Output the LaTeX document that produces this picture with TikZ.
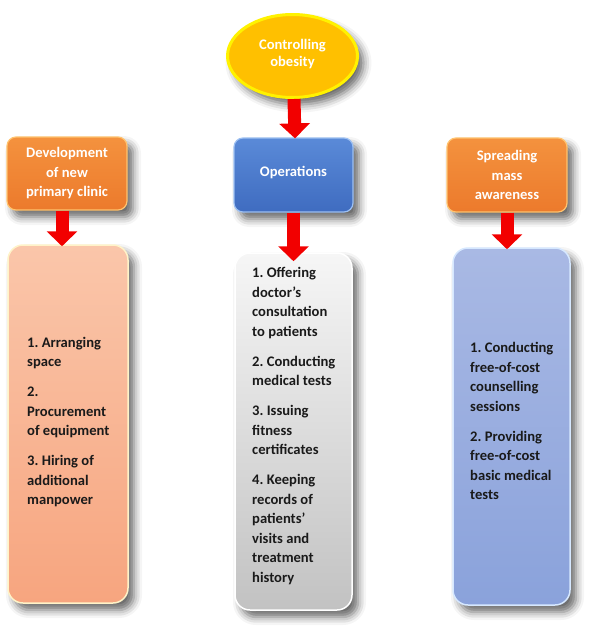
\documentclass[tikz,border=0pt]{standalone}
\usepackage{fontspec}
\setmainfont{Carlito}
\usetikzlibrary{shapes.geometric,arrows.meta,shadows.blur,calc}
\definecolor{goalfill}{HTML}{FFC000}
\definecolor{goalrim}{HTML}{FFF200}
\definecolor{opstop}{HTML}{5A8AD8}
\definecolor{opsbot}{HTML}{3F6CC0}
\definecolor{opsrim}{HTML}{9DC0F2}
\definecolor{orgtop}{HTML}{F4923E}
\definecolor{orgbot}{HTML}{EC7A2C}
\definecolor{orgrim}{HTML}{FFC36E}
\definecolor{peachtop}{HTML}{FAC6AA}
\definecolor{peachbot}{HTML}{F7A57F}
\definecolor{peachrim}{HTML}{FFF3C8}
\definecolor{graytop}{HTML}{F6F6F6}
\definecolor{graybot}{HTML}{C2C2C2}
\definecolor{bluetop}{HTML}{A9B9E4}
\definecolor{bluebot}{HTML}{8AA2DB}
\definecolor{bluerim}{HTML}{D6E8FF}
\definecolor{arrowred}{HTML}{F20000}
\definecolor{listtextcol}{HTML}{1A1A1A}
\tikzset{
  txt/.style={font=\fontsize{14.6}{19.5}\selectfont\bfseries},
  shad/.style={blur shadow={shadow xshift=6pt,shadow yshift=-7pt,shadow blur radius=8pt,shadow opacity=60}},
  headbox/.style={shad,txt,rectangle,rounded corners=9pt,line width=1.2pt,text=white,align=center,inner sep=0pt},
  orangebox/.style={headbox,draw=orgrim,top color=orgtop,bottom color=orgbot,minimum width=120pt,minimum height=73pt},
  listbox/.style={shad,rectangle,rounded corners=15pt,line width=1.5pt,minimum height=357pt,inner sep=0pt},
  listtext/.style={txt,text=listtextcol,align=left,anchor=west,inner sep=0pt},
  bigarrow/.style={draw=arrowred,line width=13pt,-{Triangle[width=30pt,length=15pt]}},
}
\begin{document}
\begin{tikzpicture}[x=1pt,y=-1pt]
\useasboundingbox (0,0) rectangle (597,643);

% goal ellipse
\node[shad,ellipse,draw=goalrim,line width=3pt,fill=goalfill,minimum width=130pt,minimum height=83pt,
      txt,text=white,align=center,inner sep=0pt] (goal) at (292.5,56) {\raisebox{6pt}{\shortstack{Controlling\\[1pt]obesity}}};

% header boxes
\node[orangebox] (dev) at (67,173.5) {Development\\of new\\primary clinic};
\node[headbox,draw=opsrim,top color=opstop,bottom color=opsbot,minimum width=119pt,minimum height=74pt] (ops) at (293.5,175) {\raisebox{8pt}{Operations}};
\node[orangebox,minimum height=74pt] (spr) at (507,175) {Spreading\\mass\\awareness};

% list boxes
\node[listbox,draw=peachrim,top color=peachtop,bottom color=peachbot,minimum width=120pt,minimum height=358pt] (devlist) at (68,424) {};
\node[listbox,draw=white,top color=graytop,bottom color=graybot,minimum width=117pt] (opslist) at (293.5,431.5) {};
\node[listbox,draw=bluerim,top color=bluetop,bottom color=bluebot,minimum width=117pt] (sprlist) at (511.5,426.5) {};

% list texts
\node[listtext] (devtext) at (27,422) {1.\ Arranging\\space\\[10.5pt]2.\\Procurement\\of equipment\\[10.5pt]3.\ Hiring of\\additional\\manpower};
\node[listtext] (opstext) at (252,426) {1.\ Offering\\doctor’s\\consultation\\to patients\\[10.5pt]2.\ Conducting\\medical tests\\[10.5pt]3.\ Issuing\\fitness\\certificates\\[10.5pt]4.\ Keeping\\records of\\patients’\\visits and\\treatment\\history};
\node[listtext] (sprtext) at (470,421) {1.\ Conducting\\free-of-cost\\counselling\\sessions\\[10.5pt]2.\ Providing\\free-of-cost\\basic medical\\tests};

% arrows
\draw[bigarrow] ([xshift=1.5pt]goal.south) -- ([xshift=1.5pt,yshift=-1pt]ops.north);
\draw[bigarrow] ([xshift=-5pt]dev.south) -- ([xshift=-5pt,yshift=-2pt]dev.south |- devlist.north);
\draw[bigarrow] (ops.south) -- ([yshift=-9pt]opslist.north -| ops.south);
\draw[bigarrow] (spr.south) -- ([yshift=-2pt]sprlist.north -| spr.south);
\end{tikzpicture}
\end{document}
